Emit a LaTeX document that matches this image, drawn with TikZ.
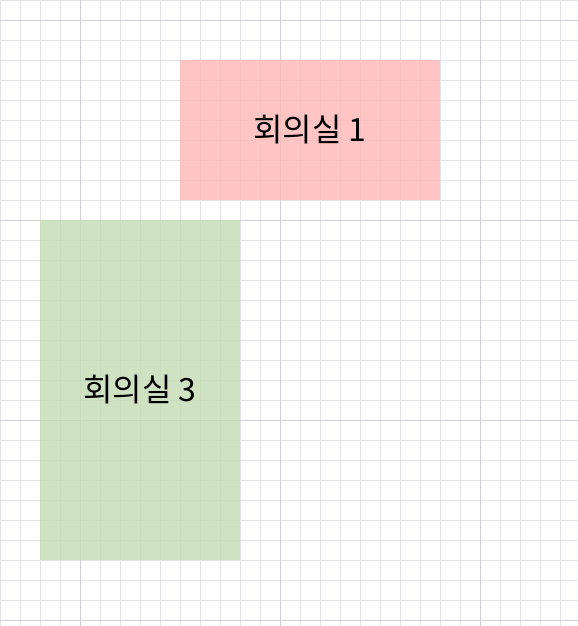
\documentclass[tikz,border=0pt]{standalone}
\usepackage{fontspec}
\newfontfamily\kofont{Noto Sans CJK KR}
\usepackage{tikz}
\usetikzlibrary{positioning}
\definecolor{gridminor}{RGB}{228,228,232}
\definecolor{gridmajor}{RGB}{208,208,214}
\definecolor{roomred}{RGB}{255,183,183}
\definecolor{roomgreen}{RGB}{196,221,181}
\tikzset{
  room/.style={draw=none, fill opacity=0.8, text opacity=1, inner sep=0pt,
    font=\kofont\fontsize{24}{28}\selectfont},
}
\begin{document}
\begin{tikzpicture}[x=0.75pt,y=-0.75pt]
\useasboundingbox (0,0) rectangle (578,626);
\fill[white] (0,0) rectangle (578,626);
% background grid
\foreach \x in {0,20,...,560} \draw[gridminor,line width=0.75pt] (\x,0) -- (\x,626);
\foreach \y in {0,20,...,620} \draw[gridminor,line width=0.75pt] (0,\y) -- (578,\y);
\foreach \x in {80,280,480} \draw[gridmajor,line width=0.75pt] (\x,0) -- (\x,626);
\foreach \y in {20,220,420,620} \draw[gridmajor,line width=0.75pt] (0,\y) -- (578,\y);
% rooms
\node[room, fill=roomred, minimum width=195pt, minimum height=105pt] (room1) at (310,130) {회의실 1};
\node[room, fill=roomgreen, minimum width=150pt, minimum height=255pt] (room3) at (140,390) {회의실 3};
\end{tikzpicture}
\end{document}
